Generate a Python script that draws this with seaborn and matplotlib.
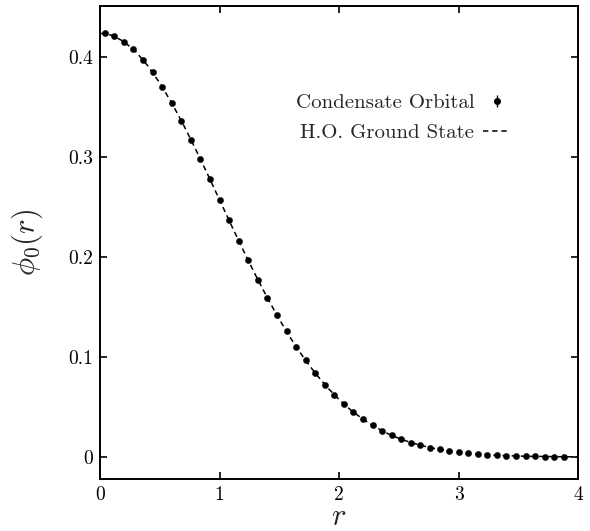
import matplotlib
matplotlib.use("Agg")
import matplotlib.pyplot as plt
from matplotlib.lines import Line2D
from matplotlib.legend_handler import HandlerTuple
import seaborn as sns
import pandas as pd

# Condensate orbital (points)
r_points = [0.04, 0.12, 0.20, 0.28, 0.36, 0.44, 0.52, 0.60, 0.68, 0.76,
            0.84, 0.92, 1.00, 1.08, 1.16, 1.24, 1.32, 1.40, 1.48, 1.56,
            1.64, 1.72, 1.80, 1.88, 1.96, 2.04, 2.12, 2.20, 2.28, 2.36,
            2.44, 2.52, 2.60, 2.68, 2.76, 2.84, 2.92, 3.00, 3.08, 3.16,
            3.24, 3.32, 3.40, 3.48, 3.56, 3.64, 3.72, 3.80, 3.88]
phi_points = [0.4235, 0.4208, 0.4154, 0.4075, 0.3972, 0.3847, 0.3702, 0.3540, 0.3362, 0.3172,
              0.2978, 0.2776, 0.2571, 0.2365, 0.2163, 0.1965, 0.1774, 0.1591, 0.1418, 0.1255,
              0.1104, 0.0965, 0.0839, 0.0724, 0.0621, 0.0529, 0.0448, 0.0377, 0.0315, 0.0262,
              0.0216, 0.0177, 0.0144, 0.0117, 0.0094, 0.0075, 0.0060, 0.0047, 0.0037, 0.0029,
              0.0022, 0.0017, 0.0013, 0.0010, 0.0008, 0.0006, 0.0004, 0.0003, 0.0002]

# H.O. ground state (dashed line)
r_line = [0.0, 0.1, 0.2, 0.3, 0.4, 0.5, 0.6, 0.7, 0.8, 0.9,
          1.0, 1.1, 1.2, 1.3, 1.4, 1.5, 1.6, 1.7, 1.8, 1.9,
          2.0, 2.1, 2.2, 2.3, 2.4, 2.5, 2.6, 2.7, 2.8, 2.9,
          3.0, 3.1, 3.2, 3.3, 3.4, 3.5, 3.6, 3.7, 3.8, 3.9, 4.0]
phi_line = [0.4238, 0.4217, 0.4154, 0.4052, 0.3912, 0.3740, 0.3540, 0.3317, 0.3077, 0.2827,
            0.2571, 0.2314, 0.2063, 0.1821, 0.1591, 0.1376, 0.1178, 0.0999, 0.0839, 0.0697,
            0.0574, 0.0467, 0.0377, 0.0301, 0.0238, 0.0186, 0.0144, 0.0111, 0.0084, 0.0063,
            0.0047, 0.0035, 0.0025, 0.0018, 0.0013, 0.0009, 0.0006, 0.0005, 0.0003, 0.0002, 0.0001]

x_ticks = [0, 1, 2, 3, 4]
x_ticklabels = ["0", "1", "2", "3", "4"]
y_ticks = [0.0, 0.1, 0.2, 0.3, 0.4]
y_ticklabels = ["0", "0.1", "0.2", "0.3", "0.4"]

sns.set_theme(style="ticks")
plt.rcParams["font.family"] = ["serif"]
plt.rcParams["font.serif"] = ["cmr10", "DejaVu Serif"]
plt.rcParams["mathtext.fontset"] = "cm"
plt.rcParams["axes.formatter.use_mathtext"] = True

fig = plt.figure(figsize=(5.9, 5.31), dpi=100)
ax = fig.add_axes([0.1695, 0.098, 0.8105, 0.8907])

df_line = pd.DataFrame({"r": r_line, "phi": phi_line})
df_pts = pd.DataFrame({"r": r_points, "phi": phi_points})

sns.lineplot(data=df_line, x="r", y="phi", ax=ax, color="black", lw=1.1,
             dashes=False, legend=False)
ax.lines[-1].set_dashes((3.5, 2.5))
sns.scatterplot(data=df_pts, x="r", y="phi", ax=ax, color="black", s=20,
                edgecolor="black", linewidth=0.3, legend=False, zorder=3)

ax.set_xlim(0, 4)
ax.set_ylim(-0.022, 0.451)
ax.set_xticks(x_ticks)
ax.set_xticklabels(x_ticklabels)
ax.set_yticks(y_ticks)
ax.set_yticklabels(y_ticklabels)
ax.tick_params(direction="in", length=5, width=1.2, top=True, right=True,
               labelsize=14, pad=5, colors="black")
for s in ax.spines.values():
    s.set_linewidth(1.4)
    s.set_color("black")

ax.set_xlabel(r"$r$", fontsize=22)
ax.xaxis.set_label_coords(0.5, -0.052)
ax.set_ylabel(r"$\phi_0(r)$", fontsize=22)
ax.yaxis.set_label_coords(-0.115, 0.5)

dot = Line2D([], [], marker="o", ls="none", color="black", markersize=4)
bar = Line2D([], [], marker="|", ls="none", color="black", markersize=9, mew=1)
dash = Line2D([], [], color="black", lw=1.1, dashes=(3.5, 2.5))
leg = ax.legend([(dot, bar), dash], ["Condensate Orbital", "H.O. Ground State"],
                handler_map={tuple: HandlerTuple(ndivide=1)},
                markerfirst=False, frameon=False, fontsize=15, handlelength=1.3,
                handletextpad=0.43, labelspacing=0.55,
                loc="upper right", bbox_to_anchor=(0.897, 0.855))

fig.savefig("out.png", dpi=100)
